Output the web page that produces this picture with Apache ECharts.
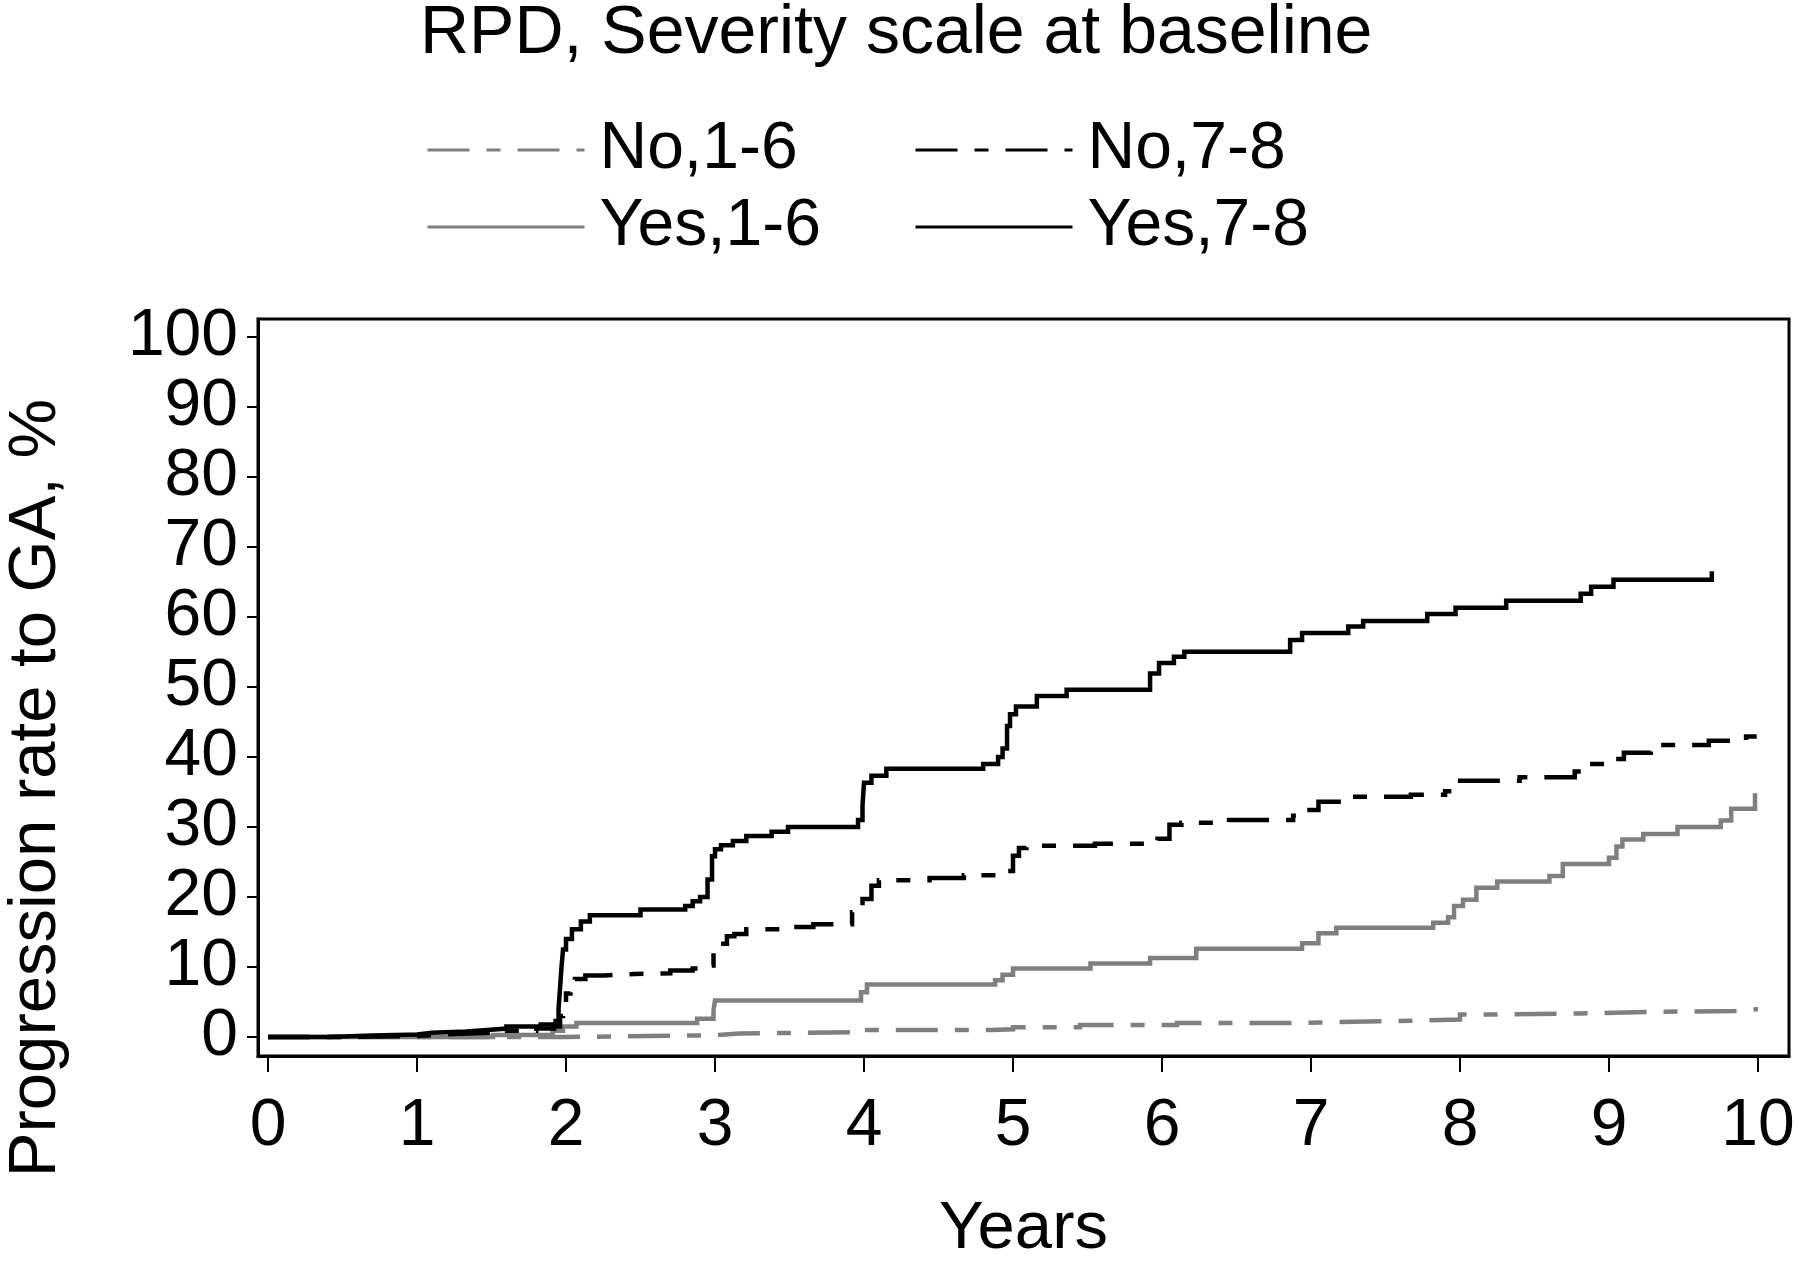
<!DOCTYPE html>
<html>
<head>
<meta charset="utf-8">
<script src="https://cdn.jsdelivr.net/npm/echarts@6/dist/echarts.min.js"></script>
<style>
html,body{margin:0;padding:0;background:#ffffff;}
#chart{width:1800px;height:1269px;}
</style>
</head>
<body>
<div id="chart"></div>
<script>
// ---- data ----
const chartTitle = 'RPD, Severity scale at baseline';
const seriesNames = ['No,1-6', 'No,7-8', 'Yes,1-6', 'Yes,7-8'];
const xTicks = [0, 1, 2, 3, 4, 5, 6, 7, 8, 9, 10];
const yTicks = [0, 10, 20, 30, 40, 50, 60, 70, 80, 90, 100];
const xAxisTitle = 'Years';
const yAxisTitle = 'Progression rate to GA, %';

const no16Years = [0, 2.0, 3.0, 3.16, 4.0, 4.85, 5.0, 5.45, 6.1, 6.85, 7.5, 8.0, 8.15, 8.8, 9.25, 9.85, 10.0];
const no16Rate  = [0, 0.25, 0.5, 0.7, 1.0, 1.1, 1.4, 1.7, 2.0, 2.25, 2.5, 3.2, 3.35, 3.57, 3.73, 4.0, 4.1];

const yes16Years = [0, 1.51, 1.91, 1.98, 2.07, 2.88, 2.99, 3.0, 3.98, 4.02, 4.88, 4.93, 5.0, 5.52, 5.92, 6.23, 6.94, 7.05, 7.17, 7.82, 7.92, 7.96, 8.02, 8.11, 8.25, 8.6, 8.69, 9.0, 9.05, 9.09, 9.23, 9.46, 9.75, 9.82, 9.98];
const yes16Rate  = [0, 0.3, 0.9, 1.5, 2.0, 2.6, 3.8, 5.2, 6.4, 7.5, 8.1, 8.9, 9.8, 10.5, 11.3, 12.6, 13.4, 14.8, 15.6, 16.3, 17.1, 18.7, 19.6, 21.3, 22.2, 23.0, 24.7, 25.6, 27.2, 28.2, 29.0, 30.0, 30.9, 32.6, 34.8];

const no78Years = [0, 0.5, 1.0, 1.2, 1.5, 1.8, 1.92, 1.96, 1.98, 2.0, 2.03, 2.06, 2.13, 2.25, 2.46, 2.7, 2.85, 2.94, 2.99, 3.02, 3.08, 3.13, 3.21, 3.49, 3.66, 3.92, 3.99, 4.05, 4.1, 4.44, 4.67, 4.9, 5.0, 5.04, 5.09, 5.55, 5.97, 6.05, 6.13, 6.45, 6.88, 6.94, 7.05, 7.25, 7.67, 7.9, 7.98, 8.4, 8.77, 8.84, 9.02, 9.1, 9.28, 9.67, 9.92, 10.0];
const no78Rate  = [0, 0.15, 0.4, 0.6, 0.9, 1.2, 1.5, 3.0, 5.0, 6.2, 7.2, 8.3, 8.8, 9.0, 9.1, 9.5, 9.8, 10.2, 12.1, 13.3, 14.4, 14.7, 15.4, 15.7, 16.1, 17.8, 19.7, 21.6, 22.4, 22.7, 23.1, 23.7, 25.9, 27.0, 27.3, 27.6, 28.3, 30.3, 30.6, 31.0, 31.6, 32.4, 33.6, 34.3, 34.6, 35.1, 36.6, 37.1, 37.9, 39.0, 39.7, 40.6, 41.7, 42.3, 42.9, 42.9];

const yes78Years = [0, 0.4, 0.7, 1.0, 1.1, 1.33, 1.47, 1.6, 1.83, 1.93, 1.95, 1.96, 1.97, 1.98, 2.0, 2.04, 2.1, 2.16, 2.5, 2.8, 2.85, 2.9, 2.95, 2.98, 3.0, 3.04, 3.12, 3.21, 3.38, 3.49, 3.96, 3.99, 4.0, 4.05, 4.15, 4.8, 4.9, 4.93, 4.96, 4.98, 5.02, 5.16, 5.36, 5.92, 5.98, 6.08, 6.15, 6.86, 6.94, 7.25, 7.35, 7.78, 7.97, 8.31, 8.81, 8.88, 9.03, 9.69];
const yes78Rate  = [0, 0.2, 0.35, 0.6, 0.8, 1.0, 1.2, 1.5, 1.8, 2.3, 4.0, 7.0, 10.0, 12.5, 14.0, 15.4, 16.5, 17.4, 18.2, 18.7, 19.4, 20.0, 22.5, 25.8, 26.8, 27.4, 28.0, 28.7, 29.3, 30.0, 31.0, 33.0, 36.3, 37.3, 38.3, 39.0, 40.0, 41.2, 44.4, 46.1, 47.2, 48.7, 49.6, 51.9, 53.4, 54.3, 55.0, 56.7, 57.7, 58.6, 59.4, 60.4, 61.3, 62.3, 63.3, 64.3, 65.3, 66.5];

// ---- chart ----
const FONT = '"Liberation Sans", Arial, Helvetica, sans-serif';
const GRAY = '#7f7f7f';
const BLACK = '#000000';
const DASH = [42, 17, 14, 17];

function pairs(xs, ys) { return xs.map((x, i) => [x, ys[i]]); }

function stepSeries(name, xs, ys, color, dashed) {
  return {
    name: name,
    type: 'line',
    step: 'end',
    symbol: 'none',
    animation: false,
    data: pairs(xs, ys),
    lineStyle: { color: color, width: 4.5, type: dashed ? DASH : 'solid', cap: 'butt', join: 'miter' },
    itemStyle: { color: color },
    emphasis: { disabled: true }
  };
}

const chart = echarts.init(document.getElementById('chart'), null, { renderer: 'canvas' });

const legendCommon = {
  orient: 'vertical',
  top: 112,
  itemWidth: 157,
  itemHeight: 14,
  itemGap: 11,
  selectedMode: false,
  lineStyle: { width: 3 },
  itemStyle: { opacity: 0 },
  textStyle: { fontSize: 66, color: BLACK, fontFamily: FONT, padding: [0, 0, 0, 10] }
};

chart.setOption({
  backgroundColor: '#ffffff',
  animation: false,
  textStyle: { fontFamily: FONT },
  title: {
    text: chartTitle,
    left: 420,
    top: 0,
    padding: 0,
    textStyle: { fontSize: 68, fontWeight: 'normal', color: BLACK, fontFamily: FONT }
  },
  legend: [
    Object.assign({}, legendCommon, { left: 421, data: [seriesNames[0], seriesNames[2]] }),
    Object.assign({}, legendCommon, { left: 909, data: [seriesNames[1], seriesNames[3]] })
  ],
  grid: {
    left: 258, top: 319, width: 1531, height: 737,
    show: true, borderColor: BLACK, borderWidth: 3, backgroundColor: 'transparent',
    containLabel: false
  },
  xAxis: {
    type: 'value',
    min: -10 / 149,
    max: 10 + 31 / 149,
    name: xAxisTitle,
    nameLocation: 'middle',
    nameGap: 140,
    nameTextStyle: { fontSize: 67, color: BLACK, fontFamily: FONT },
    axisLine: { show: true, onZero: false, lineStyle: { color: BLACK, width: 3 } },
    axisTick: { show: true, customValues: xTicks, length: 16, lineStyle: { color: BLACK, width: 2 } },
    axisLabel: { customValues: xTicks, fontSize: 66, color: BLACK, fontFamily: FONT, margin: 38 },
    splitLine: { show: false }
  },
  yAxis: {
    type: 'value',
    min: -19 / 7.01,
    max: 100 + 17.7 / 7.01,
    axisLine: { show: true, onZero: false, lineStyle: { color: BLACK, width: 3 } },
    axisTick: { show: true, customValues: yTicks, length: 11, lineStyle: { color: BLACK, width: 2 } },
    axisLabel: { customValues: yTicks, fontSize: 66, color: BLACK, fontFamily: FONT, margin: 20 },
    splitLine: { show: false }
  },
  graphic: [{
    type: 'text',
    x: 37,
    y: 788,
    rotation: Math.PI / 2,
    style: { text: yAxisTitle, fontSize: 67, fontFamily: FONT, fill: BLACK, align: 'center', verticalAlign: 'middle' }
  }],
  series: [
    stepSeries(seriesNames[0], no16Years, no16Rate, GRAY, true),
    stepSeries(seriesNames[2], yes16Years, yes16Rate, GRAY, false),
    stepSeries(seriesNames[1], no78Years, no78Rate, BLACK, true),
    stepSeries(seriesNames[3], yes78Years, yes78Rate, BLACK, false)
  ]
});
</script>
</body>
</html>
